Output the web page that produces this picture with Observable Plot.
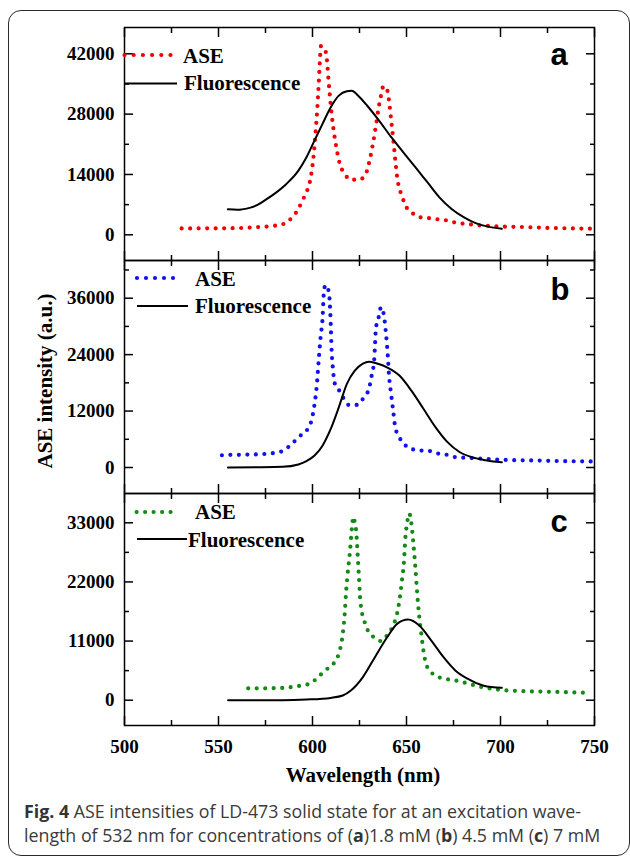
<!DOCTYPE html>
<html>
<head>
<meta charset="utf-8">
<script src="https://cdn.jsdelivr.net/npm/d3@7"></script>
<script src="https://cdn.jsdelivr.net/npm/@observablehq/plot@0.6"></script>
<style>
  body { margin: 0; background: #fff; }
  #wrap { position: relative; width: 630px; height: 858px; overflow: hidden; background: #fff; }
  #box { position: absolute; left: 8px; top: 10px; width: 622px; height: 846px; box-sizing: border-box;
         border: 1.5px solid #2a2a2a; border-radius: 13px; }
  .panel { position: absolute; left: 0; }
  #overlay { position: absolute; left: 0; top: 0; }
  #cap { position: absolute; left: 24px; top: 799px; font-family: "Open Sans", sans-serif; font-size: 17.8px;
         color: #3a3a3a; line-height: 24px; white-space: nowrap; }
  #cap b { color: #333; }
</style>
</head>
<body>
<div id="wrap">
  <div id="box"></div>
  <div id="pa" class="panel"></div>
  <div id="pb" class="panel"></div>
  <div id="pc" class="panel"></div>
  <svg id="overlay" width="630" height="858" style="font-family:'Liberation Serif',serif;font-weight:bold;">
    <!-- legend a -->
    <line x1="124.5" x2="173" y1="55" y2="55" stroke="#f00000" stroke-width="4.2" stroke-linecap="round" stroke-dasharray="0 9.2"/>
    <text x="183" y="63" font-size="21">ASE</text>
    <line x1="124.5" x2="177" y1="83.5" y2="83.5" stroke="#000" stroke-width="2"/>
    <text x="184" y="90" font-size="21">Fluorescence</text>
    <!-- legend b -->
    <line x1="137" x2="182" y1="278" y2="278" stroke="#1010f0" stroke-width="4.2" stroke-linecap="round" stroke-dasharray="0 9"/>
    <text x="195" y="286" font-size="21">ASE</text>
    <line x1="137" x2="188" y1="306" y2="306" stroke="#000" stroke-width="2"/>
    <text x="195" y="313" font-size="21">Fluorescence</text>
    <!-- legend c -->
    <line x1="136.6" x2="179" y1="512" y2="512" stroke="#138a13" stroke-width="4.2" stroke-linecap="round" stroke-dasharray="0 8.5"/>
    <text x="195" y="519" font-size="21">ASE</text>
    <line x1="137" x2="187" y1="539" y2="539" stroke="#000" stroke-width="2"/>
    <text x="188" y="547" font-size="21">Fluorescence</text>
    <!-- panel letters -->
    <g font-family="'Liberation Sans',Arial,sans-serif" font-size="31" text-anchor="middle">
      <text x="559" y="65">a</text>
      <text x="560" y="300">b</text>
      <text x="559" y="532">c</text>
    </g>
    <!-- axis titles -->
    <text transform="translate(52,381) rotate(-90)" text-anchor="middle" font-size="21">ASE intensity (a.u.)</text>
    <text x="363" y="782" text-anchor="middle" font-size="21">Wavelength (nm)</text>
  </svg>
  <div id="cap">
    <div><b>Fig. 4</b> ASE intensities of LD-473 solid state for at an excitation wave-</div>
    <div>length of 532 nm for concentrations of (<b>a</b>)1.8 mM (<b>b</b>) 4.5 mM (<b>c</b>) 7 mM</div>
  </div>
</div>
<script>
// ---- tick values ----
const xMajor = [500, 550, 600, 650, 700, 750];
const xMinor = [525, 575, 625, 675, 725];
const yMajorA = [0, 14000, 28000, 42000];
const yMinorA = [7000, 21000, 35000];
const yMajorB = [0, 12000, 24000, 36000];
const yMinorB = [6000, 18000, 30000, 42000];
const yMajorC = [0, 11000, 22000, 33000];
const yMinorC = [5500, 16500, 27500];

// ---- panel a (1.8 mM) ----
const aseA_x = [530.4, 540, 550, 560, 571, 580, 585, 589.3, 592.5, 594.7, 596.8, 598.5, 600.5, 601.5, 602.5, 603.3, 604.0, 604.5, 606.8, 607.8, 608.5, 609.3, 610.3, 611.5, 613.0, 614.5, 617.0, 620.5, 625.0, 628.5, 630.5, 632.3, 633.8, 635.0, 636.3, 637.8, 639.8, 641.0, 642.0, 643.0, 644.0, 645.0, 646.0, 647.5, 649.0, 652.5, 656.8, 661.0, 666.5, 670.7, 675.4, 679.7, 684.7, 689.0, 693.2, 701.8, 712.5, 725.4, 737.0, 749.0];
const aseA_y = [1470, 1500, 1500, 1550, 1800, 2100, 2600, 4100, 6000, 8000, 9900, 12100, 18000, 23000, 29000, 35000, 41000, 43800, 42800, 40000, 36000, 32000, 27500, 23500, 19500, 16500, 14200, 12800, 12800, 14300, 17500, 21500, 25500, 29000, 32000, 34500, 33500, 30000, 26000, 22000, 17500, 13500, 11000, 9200, 7200, 5300, 4100, 3900, 3600, 3400, 2900, 2600, 2400, 2200, 2100, 1900, 1800, 1600, 1500, 1400];
const flA_x = [555, 560, 562.5, 567, 571, 575, 579.7, 586.1, 592.5, 596.8, 601.1, 605.4, 609.7, 614, 618.3, 620.8, 624.7, 629, 635.4, 641.8, 648.2, 654.7, 661.1, 667.5, 674, 680.4, 686.8, 693.2, 700.7];
const flA_y = [5900, 5800, 5900, 6300, 7000, 8100, 9500, 11800, 14900, 18000, 21900, 25800, 29600, 32300, 33300, 33400, 32100, 30000, 26500, 22700, 19200, 15700, 12200, 8700, 6000, 4100, 2700, 1900, 1400];

// ---- panel b (4.5 mM) ----
const aseB_x = [551.8, 556, 561, 566, 571, 575.4, 579.7, 584, 588.7, 593, 597.3, 599.4, 601.1, 602.2, 603.3, 604.3, 605.4, 606.0, 606.9, 608.6, 609.7, 610.1, 610.8, 611.9, 614, 616.1, 619.3, 623.6, 627.5, 630, 631.5, 632.8, 633.2, 633.7, 635, 636.5, 638, 639, 640.1, 640.7, 641.8, 642.9, 644, 645.7, 648.7, 653, 657.9, 662.2, 666.5, 671.4, 676.1, 684.7, 693.2, 703.9, 716.8, 733.9, 749];
const aseB_y = [2600, 2700, 2700, 2750, 2800, 2900, 3100, 3500, 4900, 6600, 8100, 9900, 13500, 17100, 22800, 27700, 32000, 37000, 38800, 37500, 30600, 25600, 21300, 17800, 16500, 15000, 13300, 13300, 15000, 16700, 19600, 22800, 25600, 29500, 31600, 34100, 32300, 28800, 23500, 19600, 15700, 12100, 8600, 6800, 5000, 3900, 3600, 3500, 3000, 2700, 2200, 2000, 1800, 1600, 1500, 1350, 1300];
const flB_x = [555, 570, 584, 592.5, 596.8, 601.1, 605.4, 609.7, 614, 618.3, 622.5, 626.8, 630, 634.3, 639.6, 646.1, 652.5, 659, 665.4, 671.8, 678.2, 684.7, 691.1, 700.7];
const flB_y = [0, 50, 150, 650, 1350, 2550, 4700, 8200, 12800, 17800, 20600, 22100, 22500, 22100, 21300, 19600, 16400, 12500, 8600, 5400, 3300, 2200, 1600, 1100];

// ---- panel c (7 mM) ----
const aseC_x = [565.8, 570, 575, 580, 585, 590, 593.6, 597.9, 602.2, 606.5, 611.4, 615.0, 616.1, 617.2, 617.8, 618.7, 620.0, 621.0, 621.7, 622.5, 623.2, 624.0, 624.7, 625.3, 626.4, 627.5, 629.0, 632.6, 636.5, 640.1, 642.9, 645.0, 646.5, 647.6, 648.7, 649.3, 650.4, 651.5, 652.5, 653.6, 654.7, 655.7, 656.8, 657.9, 659.0, 661.1, 665.4, 669.7, 674.0, 678.2, 683.6, 687.9, 692.2, 700.7, 710.4, 721.1, 733.9, 747.9];
const aseC_y = [2200, 2200, 2200, 2250, 2300, 2500, 2700, 3000, 4000, 5500, 6900, 10000, 12300, 16400, 19800, 23500, 27900, 32200, 34100, 33100, 31600, 27200, 22900, 19200, 16100, 14800, 13300, 11700, 11000, 12300, 13900, 16100, 19200, 22300, 26000, 29700, 33100, 34700, 33100, 29400, 24800, 19800, 15500, 12300, 9200, 6100, 4600, 4000, 3800, 3500, 3000, 2600, 2300, 1900, 1700, 1600, 1500, 1350];
const flC_x = [555.1, 584.0, 596.8, 609.7, 616.1, 620.4, 626.8, 633.2, 639.7, 645.0, 650.8, 656.8, 663.2, 669.7, 676.1, 682.5, 691.1, 700.7];
const flC_y = [0, 0, 120, 430, 870, 1800, 4300, 8000, 11700, 14200, 15000, 13900, 11100, 8000, 5500, 4000, 2700, 2300];

function panel(el, {top, height, marginBottom, yDomain, yMajor, yMinor, aseX, aseY, flX, flY, color, xLabels}) {
  const blank = () => "";
  const txt = {fontWeight: "bold", fontSize: 19, fontFamily: "'Liberation Serif', serif", fill: "black"};
  const marks = [
    Plot.line(aseX, {x: aseX, y: aseY, stroke: color, strokeWidth: 4.2, strokeLinecap: "round",
                     strokeDasharray: "0 8.5", curve: "monotone-x"}),
    Plot.line(flX, {x: flX, y: flY, stroke: "black", strokeWidth: 2, curve: "monotone-x"}),
    Plot.frame({stroke: "black", strokeWidth: 1.5}),
    // x ticks (inward) top & bottom
    Plot.axisX({anchor: "top", ticks: xMajor, tickSize: -9, tickFormat: blank, strokeWidth: 1.5, label: null}),
    Plot.axisX({anchor: "top", ticks: xMinor, tickSize: -5, tickFormat: blank, strokeWidth: 1.5, label: null}),
    Plot.axisX({anchor: "bottom", ticks: xMajor, tickSize: -9, strokeWidth: 1.5, label: null,
                tickPadding: 23, tickFormat: xLabels ? (d => String(d)) : blank, ...txt}),
    Plot.axisX({anchor: "bottom", ticks: xMinor, tickSize: -5, tickFormat: blank, strokeWidth: 1.5, label: null}),
    // y ticks (inward) left & right
    Plot.axisY({anchor: "left", ticks: yMajor, tickSize: -9, tickPadding: 19, tickFormat: d => String(d),
                strokeWidth: 1.5, label: null, ...txt}),
    Plot.axisY({anchor: "left", ticks: yMinor, tickSize: -5, tickFormat: blank, strokeWidth: 1.5, label: null}),
    Plot.axisY({anchor: "right", ticks: yMajor, tickSize: -9, tickFormat: blank, strokeWidth: 1.5, label: null}),
    Plot.axisY({anchor: "right", ticks: yMinor, tickSize: -5, tickFormat: blank, strokeWidth: 1.5, label: null})
  ];
  const chart = Plot.plot({
    width: 630, height,
    marginLeft: 124, marginRight: 36, marginTop: 10, marginBottom,
    x: {domain: [500, 750], label: null},
    y: {domain: yDomain, label: null},
    style: {fontFamily: "'Liberation Serif', serif", fontWeight: "bold", fontSize: "19px",
            color: "black", background: "none", overflow: "visible"},
    marks
  });
  el.style.top = top + "px";
  el.appendChild(chart);
}

panel(document.getElementById("pa"), {top: 17, height: 253, marginBottom: 10, yDomain: [-5964, 48103],
  yMajor: yMajorA, yMinor: yMinorA, aseX: aseA_x, aseY: aseA_y, flX: flA_x, flY: flA_y, color: "#f00000", xLabels: false});
panel(document.getElementById("pb"), {top: 250, height: 253, marginBottom: 10, yDomain: [-5529, 44016],
  yMajor: yMajorB, yMinor: yMinorB, aseX: aseB_x, aseY: aseB_y, flX: flB_x, flY: flB_y, color: "#1010f0", xLabels: false});
panel(document.getElementById("pc"), {top: 483, height: 282, marginBottom: 40, yDomain: [-4706, 38450],
  yMajor: yMajorC, yMinor: yMinorC, aseX: aseC_x, aseY: aseC_y, flX: flC_x, flY: flC_y, color: "#138a13", xLabels: true});
</script>
</body>
</html>
